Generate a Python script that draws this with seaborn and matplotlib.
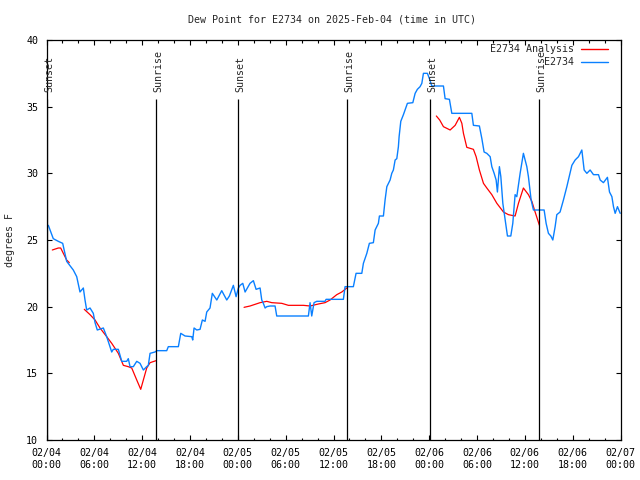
import numpy as np
import pandas as pd
import matplotlib
matplotlib.use('Agg')
import matplotlib.pyplot as plt
from matplotlib.lines import Line2D
from matplotlib.ticker import MultipleLocator
import seaborn as sns

# 观测值 E2734 (hours since 02/04 00:00 UTC, degrees F)
obs_hours = [0.23, 0.85, 1.48, 2.03, 2.53, 3.36, 3.79, 4.20, 4.62, 4.83, 5.04, 5.46, 5.87,
             6.09, 6.37, 7.13, 7.55, 8.18, 8.38, 9.01, 9.44, 10.06, 10.26, 10.48, 10.89,
             11.32, 11.73, 12.15, 12.57, 12.77, 12.99, 13.61, 13.83, 15.08, 15.28, 16.54,
             16.84, 17.38, 18.22, 18.34, 18.51, 18.85, 19.26, 19.55, 19.89, 20.10, 20.51,
             20.80, 21.36, 21.98, 22.61, 22.94, 23.44, 23.78, 24.07, 24.28, 24.62, 24.91,
             25.53, 25.95, 26.29, 26.79, 27.00, 27.20, 27.42, 27.63, 28.04, 28.67, 28.88,
             32.85, 33.06, 33.27, 33.56, 33.90, 34.94, 35.07, 37.24, 37.45, 38.49, 38.83,
             39.55, 39.75, 40.18, 40.50, 41.00, 41.22, 41.63, 41.76, 42.26, 42.47, 42.69,
             43.10, 43.31, 43.51, 43.73, 43.94, 44.14, 44.23, 44.44, 44.77, 44.98, 45.27,
             45.95, 46.24, 46.52, 46.86, 47.08, 47.28, 47.78, 48.03, 48.33, 49.79, 50.00,
             50.54, 50.84, 53.35, 53.55, 54.30, 54.61, 54.89, 55.23, 55.65, 55.86, 56.15,
             56.40, 56.56, 56.81, 56.99, 57.24, 57.53, 57.82, 58.24, 58.49, 58.78, 58.99,
             59.41, 59.82, 60.25, 60.45, 60.79, 61.08, 62.42, 62.67, 62.96, 63.26, 63.51,
             63.80, 64.01, 64.42, 64.84, 65.27, 65.90, 66.31, 66.73, 67.15, 67.44, 67.78,
             68.19, 68.61, 69.24, 69.45, 69.86, 70.36, 70.62, 70.92, 71.12, 71.33, 71.62,
             71.96]
obs_dewpt = [26.1, 25.1, 24.9, 24.75, 23.4, 22.75, 22.25, 21.1, 21.4, 20.5, 19.75, 19.9, 19.5,
             18.8, 18.25, 18.4, 17.75, 16.6, 16.8, 16.8, 15.9, 15.9, 16.1, 15.5, 15.5,
             15.9, 15.75, 15.25, 15.5, 15.6, 16.5, 16.6, 16.7, 16.7, 17.0, 17.0,
             18.0, 17.8, 17.75, 17.5, 18.4, 18.25, 18.3, 19.0, 18.9, 19.6, 19.9,
             21.0, 20.5, 21.2, 20.5, 20.8, 21.6, 20.75, 21.4, 21.6, 21.75, 21.1,
             21.75, 21.95, 21.3, 21.4, 20.5, 20.25, 19.9, 20.0, 20.05, 20.05, 19.3,
             19.3, 20.3, 19.3, 20.3, 20.4, 20.4, 20.55, 20.55, 21.5, 21.5, 22.5,
             22.5, 23.25, 24.0, 24.75, 24.8, 25.75, 26.25, 26.8, 26.8, 28.0, 29.0,
             29.5, 30.0, 30.25, 31.0, 31.1, 32.0, 32.75, 33.9, 34.4, 34.75, 35.25,
             35.3, 36.0, 36.3, 36.5, 36.75, 37.5, 37.5, 37.1, 36.55, 36.55, 35.6,
             35.55, 34.5, 34.5, 33.6, 33.55, 32.6, 31.6, 31.5, 31.25, 30.5, 30.0,
             29.5, 28.6, 30.5, 29.75, 27.75, 26.5, 25.3, 25.3, 26.25, 28.4, 28.25,
             30.0, 31.5, 30.5, 29.75, 28.0, 27.25, 27.25, 26.25, 25.5, 25.3, 25.0,
             26.0, 26.9, 27.1, 28.0, 29.0, 30.6, 31.0, 31.25, 31.75, 30.25, 30.0,
             30.25, 29.9, 29.9, 29.5, 29.3, 29.7, 28.6, 28.25, 27.5, 27.0, 27.5,
             27.0]

# 分析值 E2734 Analysis，分段（中间有缺口）
ana_hours = [0.73, 1.48, 1.78, 2.11, 2.53, 2.86,
             4.74, 5.46, 6.09, 6.71, 7.55, 8.18, 9.01, 9.64, 10.26, 10.69, 11.32, 11.82,
             12.57, 12.99, 13.74,
             24.78, 25.53, 26.79, 27.63, 28.26, 29.51, 30.34, 32.22, 33.06, 34.10, 34.94,
             35.57, 36.41, 37.04, 37.67,
             48.90, 49.32, 49.79, 50.63, 51.26, 51.79, 52.10, 52.30, 52.72, 53.55, 53.89,
             54.30, 54.81, 55.23, 55.86, 56.49, 57.32, 57.94, 58.78, 59.20, 59.82, 60.45,
             60.88, 61.29, 61.83]
ana_dewpt = [24.25, 24.4, 24.4, 24.0, 23.5, 23.3,
             19.8, 19.4, 19.0, 18.4, 17.75, 17.25, 16.5, 15.6, 15.5, 15.4, 14.5, 13.8,
             15.4, 15.8, 15.95,
             19.95, 20.05, 20.3, 20.4, 20.3, 20.25, 20.1, 20.1, 20.05, 20.2, 20.3,
             20.5, 20.9, 21.1, 21.4,
             34.3, 34.0, 33.5, 33.25, 33.6, 34.2, 33.75, 33.0, 31.95, 31.8, 31.25,
             30.25, 29.25, 28.9, 28.4, 27.75, 27.1, 26.9, 26.8, 27.75, 28.9, 28.4,
             27.9, 27.1, 26.1]
ana_segment = [0] * 6 + [1] * 15 + [2] * 15 + [3] * 25

# 日出日落
sun_labels = ['Sunset', 'Sunrise', 'Sunset', 'Sunrise', 'Sunset', 'Sunrise']
sun_hours = [0.05, 13.78, 24.08, 37.74, 48.09, 61.8]

tick_hours = list(range(0, 73, 6))
tick_labels = ['02/04\n00:00', '02/04\n06:00', '02/04\n12:00', '02/04\n18:00',
               '02/05\n00:00', '02/05\n06:00', '02/05\n12:00', '02/05\n18:00',
               '02/06\n00:00', '02/06\n06:00', '02/06\n12:00', '02/06\n18:00',
               '02/07\n00:00']

sns.set_style('ticks')
plt.rcParams['font.family'] = ['DejaVu Sans Mono']
plt.rcParams['font.size'] = 7.2

RED = '#ff0000'
BLUE = '#0a80ff'

obs = pd.DataFrame({'hours': obs_hours, 'dewpt': obs_dewpt})
ana = pd.DataFrame({'hours': ana_hours, 'dewpt': ana_dewpt, 'seg': ana_segment})

fig = plt.figure(figsize=(6.4, 4.8), dpi=100)
ax = fig.add_axes([46.5 / 640, 40 / 480, 574 / 640, 400 / 480])

sns.lineplot(data=ana, x='hours', y='dewpt', units='seg', estimator=None,
             color=RED, linewidth=0.9, ax=ax)
sns.lineplot(data=obs, x='hours', y='dewpt', color=BLUE, linewidth=1.0, ax=ax)

for lab, h in zip(sun_labels, sun_hours):
    ax.vlines(h, 10, 35.6, color='black', linewidth=0.9)
    ax.text(h + 0.25, 36.1, lab, rotation=90, ha='center', va='bottom', fontsize=7.2)

ax.set_xlim(0, 72)
ax.set_ylim(10, 40)
ax.set_xticks(tick_hours)
ax.set_xticklabels(tick_labels)
ax.xaxis.set_minor_locator(MultipleLocator(2))
ax.set_yticks(range(10, 41, 5))
ax.tick_params(which='both', direction='in', top=True, right=True, colors='black',
               labelsize=7.2)
ax.tick_params(which='major', length=3.5, width=0.8, pad=6)
ax.tick_params(which='minor', length=1.8, width=0.8)
for s in ax.spines.values():
    s.set_color('black')
    s.set_linewidth(0.9)
ax.set_xlabel('')
ax.set_ylabel('')

# 图例（文字右对齐，gnuplot 风格）
leg_rows = [('E2734 Analysis', RED, 0.977), ('E2734', BLUE, 0.944)]
for name, col, yy in leg_rows:
    ax.text(0.919, yy, name, transform=ax.transAxes, ha='right', va='center', fontsize=7.2)
    ax.add_line(Line2D([0.9307, 0.9782], [yy, yy], transform=ax.transAxes,
                       color=col, linewidth=1.0))

fig.text(332 / 640, 1 - 19 / 480, 'Dew Point for E2734 on 2025-Feb-04 (time in UTC)',
         ha='center', va='center', fontsize=7.2)
fig.text(10 / 640, 0.5, 'degrees F', rotation=90, ha='center', va='center', fontsize=7.2)

fig.savefig('out.png', dpi=100)
